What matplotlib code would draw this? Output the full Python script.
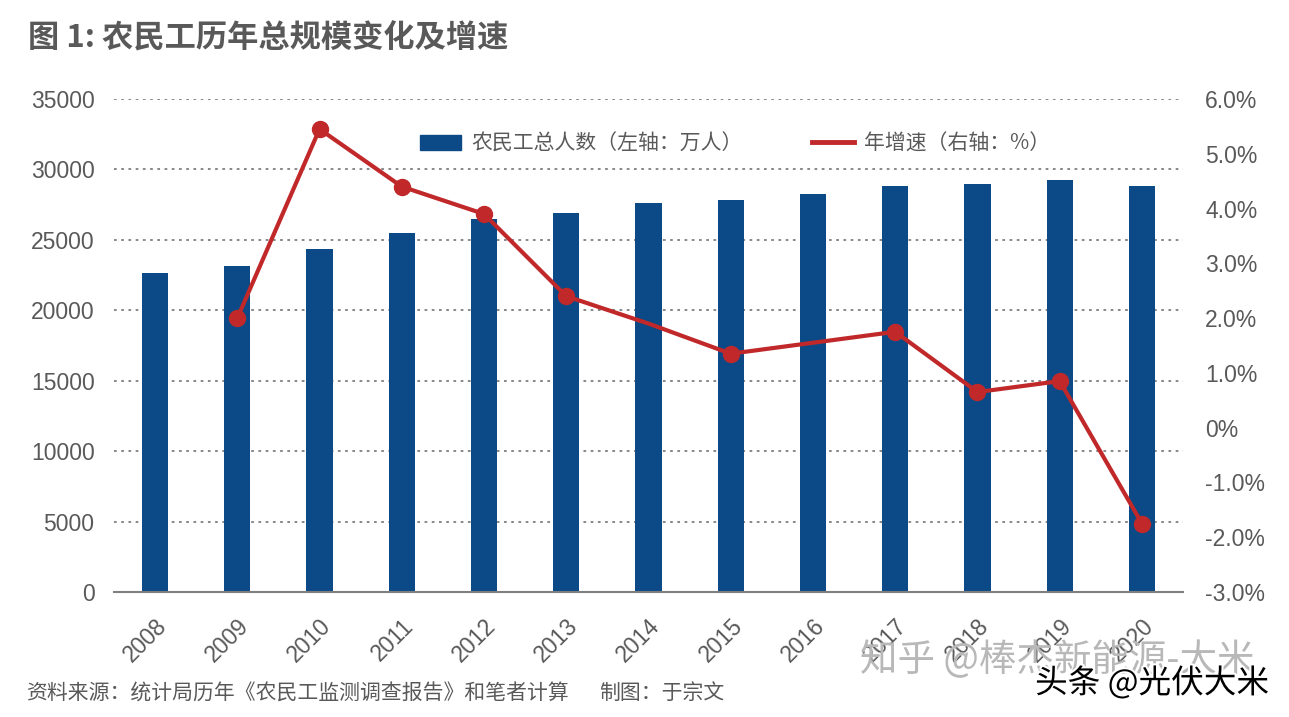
import numpy as np
import matplotlib.pyplot as plt
from matplotlib.lines import Line2D
from matplotlib.patches import Patch
import matplotlib.patheffects as pe

plt.rcParams['font.family'] = ['Noto Sans CJK SC', 'DejaVu Sans']

years = ['2008', '2009', '2010', '2011', '2012', '2013', '2014',
         '2015', '2016', '2017', '2018', '2019', '2020']
workers = [22640, 23110, 24340, 25520, 26460, 26930, 27600,
           27800, 28270, 28790, 28980, 29220, 28790]
growth = [np.nan, 2.0, 5.45, 4.4, 3.9, 2.4, 1.9, 1.35, 1.55, 1.75, 0.65, 0.85, -1.75]
marked = [1, 2, 3, 4, 5, 7, 9, 10, 11, 12]

blue = '#0b4a86'
red = '#c0282a'
grey = '#595959'
numfont = ['Liberation Sans', 'DejaVu Sans']

fig = plt.figure(figsize=(12.89, 7.17), dpi=100)
ax = fig.add_axes([0.0884, 0.1743, 0.8294, 0.6877])
x = np.arange(len(years))

ax.bar(x, workers, width=0.32, color=blue, zorder=2)
ax.set_xlim(-0.5, len(years) - 0.5)
ax.set_ylim(0, 35000)
ax.set_yticks(np.arange(0, 35001, 5000))
ax.grid(axis='y', color='#7f7f7f', linestyle=(0, (1.5, 2.5)), linewidth=1.3, zorder=0)
for s in ['top', 'left', 'right']:
    ax.spines[s].set_visible(False)
ax.spines['bottom'].set_color('#7f7f7f')
ax.spines['bottom'].set_linewidth(1.5)
ax.tick_params(axis='y', length=0, pad=14)
ax.set_xticks(x)
ax.set_xticklabels(years, rotation=45, ha='right', rotation_mode='anchor')
ax.tick_params(axis='x', length=0, pad=16)
for lab in ax.get_xticklabels() + ax.get_yticklabels():
    lab.set_fontfamily(numfont)
    lab.set_fontsize(16.5)
    lab.set_color(grey)

ax2 = ax.twinx()
ax2.plot(x, growth, color=red, linewidth=3, marker='o', markersize=11.5,
         markevery=marked, zorder=3)
ax2.set_ylim(-3, 6)
ax2.set_yticks(np.arange(-3, 7, 1))
ax2.set_yticklabels(['-3.0%', '-2.0%', '-1.0%', '0%', '1.0%', '2.0%',
                     '3.0%', '4.0%', '5.0%', '6.0%'])
for s in ['top', 'left', 'right', 'bottom']:
    ax2.spines[s].set_visible(False)
ax2.tick_params(axis='y', length=0, pad=16)
for lab in ax2.get_yticklabels():
    lab.set_fontfamily(numfont)
    lab.set_fontsize(16.5)
    lab.set_color(grey)

handles = [Patch(color=blue), Line2D([0], [0], color=red, linewidth=3.5)]
labels = ['农民工总人数（左轴：万人）', '年增速（右轴：%）']
fig.legend(handles, labels, loc='center left', bbox_to_anchor=(0.311, 0.80),
           ncol=2, frameon=False, fontsize=15, labelcolor=grey,
           handlelength=2.0, handleheight=0.75, handletextpad=0.5,
           columnspacing=3.3)

fig.text(0.022, 0.947, '图 1: 农民工历年总规模变化及增速', fontsize=22.5,
         fontweight='bold', color=grey, va='center')
fig.text(0.02, 0.033, '资料来源：统计局历年《农民工监测调查报告》和笔者计算',
         fontsize=15, color=grey, va='center')
fig.text(0.465, 0.033, '制图：于宗文', fontsize=15, color=grey, va='center')
fig.text(0.667, 0.079, '知乎 @棒杰新能源-大米', fontsize=27, color='#b8b8b8',
         va='center')
fig.text(0.803, 0.047, '头条 @光伏大米', fontsize=23.5, color='black', va='center',
         path_effects=[pe.withStroke(linewidth=3, foreground='white')])

fig.savefig('out.png', dpi=100)
